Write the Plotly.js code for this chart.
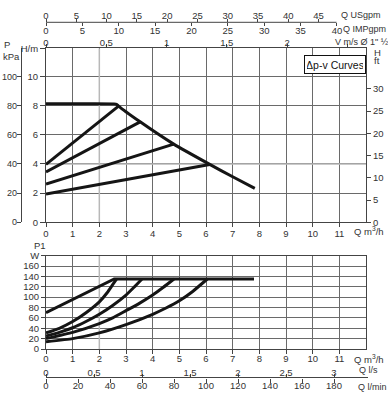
<!DOCTYPE html>
<html><head><meta charset="utf-8">
<script src="https://cdn.plot.ly/plotly-3.0.1.min.js"></script>
<style>html,body{margin:0;padding:0;background:#fff;}#chart{width:388px;height:399px;}</style>
</head><body><div id="chart"></div>
<script>
// ---- Data (Q in m3/h) ----
// Upper chart: head H (m)
const Q_max = [0, 2.55, 2.66, 2.72, 3.53, 4.79, 6.14, 7.0, 7.83];
const H_max = [8.12, 8.12, 8.08, 7.97, 6.89, 5.36, 3.97, 3.12, 2.33];
const Q_dpv1 = [0, 2.72], H_dpv1 = [3.97, 7.97];
const Q_dpv2 = [0, 3.53], H_dpv2 = [3.45, 6.89];
const Q_dpv3 = [0, 4.79], H_dpv3 = [2.62, 5.36];
const Q_dpv4 = [0, 6.14], H_dpv4 = [1.94, 3.97];
// Lower chart: power P1 (W)
const Q_pA = [0, 2.56, 7.8], P_pA = [70, 135, 135];
const Q_pB = [0, 0.5, 1, 1.5, 2, 2.3, 2.5, 2.65], P_pB = [31, 40, 53, 70, 91, 109, 124, 135];
const Q_pC = [0, 0.5, 1, 1.5, 2, 2.5, 3, 3.3, 3.6], P_pC = [25, 32, 41, 53, 67, 84, 104, 119, 135];
const Q_pD = [0, 1, 2, 2.5, 3, 3.5, 4, 4.4, 4.8], P_pD = [20, 32, 49, 60, 74, 88, 104, 119, 135];
const Q_pE = [0, 1, 2, 3, 4, 4.5, 5, 5.5, 6.05], P_pE = [14, 20, 31, 47, 67, 79, 93, 111, 135];
// Tick labels
const qTicks = [0,1,2,3,4,5,6,7,8,9,10,11];
const hTicks = [0,2,4,6,8,10], hTop = 11.92;
const kpaTicks = [0,20,40,60,80,100];
const ftTicks = [0,5,10,15,20,25,30];
const usTicks = [0,5,10,15,20,25,30,35,40,45];
const impTicks = [0,5,10,15,20,25,30,35,40];
const vTicks = [0,0.5,1,1.5,2,2.5], vText = ['0','0,5','1','1,5','2',''];
const wTicks = [0,20,40,60,80,100,120,140,160,180], wText = ['0','20','40','60','80','100','120','140','160','W'];
const lsTicks = [0,0.5,1,1.5,2,2.5,3], lsText = ['0','0,5','1','1,5','2','2,5','3'];
const lminTicks = [0,20,40,60,80,100,120,140,160,180];

// Unit conversions (per m3/h)
const US = 4.4029, IMP = 3.6662, VEL = 1/4.52, LS = 1/3.6, LMIN = 1000/60, FT = 3.28084;

const W = 388, Hh = 399;
const px = v => v / W, py = v => 1 - v / Hh;
const QMAX = 12;
const xdom = [px(46), px(366)];
const ydom1 = [py(222.3), py(48.3)];
const ydom2 = [py(349), py(255.5)];
const yRange1 = [0, 11.93];
const yRange2 = [0, 180.3];

const FAM = 'Liberation Sans, Arial, sans-serif';
const font = {family: FAM, size: 9.5, color: '#333'};
const tfont = {family: FAM, size: 9, color: '#333'};
const gridc = '#6a6a6a';
const lineStyle = {color: '#151515', width: 3};

function tr(x, y, xa, ya, shape) {
  return {x: x, y: y, xaxis: xa, yaxis: ya, type: 'scatter', mode: 'lines',
    line: Object.assign({shape: shape || 'linear', smoothing: 0.4}, lineStyle),
    hoverinfo: 'skip', showlegend: false};
}
function dummy(xa, ya) {
  return {x: [null], y: [null], xaxis: xa, yaxis: ya, type: 'scatter', mode: 'lines', hoverinfo: 'skip', showlegend: false};
}

const data = [
  tr(Q_dpv4, H_dpv4, 'x', 'y'),
  tr(Q_dpv3, H_dpv3, 'x', 'y'),
  tr(Q_dpv2, H_dpv2, 'x', 'y'),
  tr(Q_dpv1, H_dpv1, 'x', 'y'),
  tr(Q_max, H_max, 'x', 'y', 'spline'),
  tr(Q_pE, P_pE, 'x2', 'y2', 'spline'),
  tr(Q_pD, P_pD, 'x2', 'y2', 'spline'),
  tr(Q_pC, P_pC, 'x2', 'y2', 'spline'),
  tr(Q_pB, P_pB, 'x2', 'y2', 'spline'),
  tr(Q_pA, P_pA, 'x2', 'y2'),
  dummy('x3', 'y'), dummy('x4', 'y'), dummy('x5', 'y'),
  dummy('x', 'y3'), dummy('x', 'y4'),
  dummy('x6', 'y2'), dummy('x7', 'y2')
];

const baseX = {domain: xdom, range: [0, QMAX], fixedrange: true, showgrid: true, gridcolor: gridc, gridwidth: 1,
  zeroline: false, showline: true, mirror: true, linecolor: '#444', linewidth: 1,
  ticks: 'outside', ticklen: 4, tickcolor: '#444', tickmode: 'array', tickvals: qTicks, tickfont: font};
const freeX = (pos, side, range, vals, text, len, stand) => ({
  overlaying: 'x', anchor: 'free', position: pos, side: side, range: range, fixedrange: true,
  showgrid: false, zeroline: false, showline: false, ticks: 'outside', ticklen: len, tickcolor: '#444',
  tickmode: 'array', tickvals: vals, ticktext: text, tickfont: font, ticklabelstandoff: stand});

const layout = {
  width: W, height: Hh, margin: {l: 0, r: 0, t: 0, b: 0}, paper_bgcolor: '#fff', plot_bgcolor: '#fff',
  showlegend: false, font: font,
  xaxis: Object.assign({}, baseX, {anchor: 'y', ticklabelstandoff: -2}),
  yaxis: {domain: ydom1, range: yRange1, fixedrange: true, showgrid: true, gridcolor: gridc, zeroline: false,
    showline: true, mirror: true, linecolor: '#444', ticks: 'outside', ticklen: 5, tickcolor: '#444',
    tickmode: 'array', tickvals: hTicks.concat([hTop]), ticktext: hTicks.map(String).concat(['H/m']), tickfont: font, anchor: 'x'},
  xaxis2: Object.assign({}, baseX, {anchor: 'y2', ticklabelstandoff: -3}),
  yaxis2: {domain: ydom2, range: yRange2, fixedrange: true, showgrid: true, gridcolor: gridc, zeroline: false,
    showline: true, mirror: true, linecolor: '#444', ticks: 'outside', ticklen: 4, tickcolor: '#444',
    tickmode: 'array', tickvals: wTicks, ticktext: wText, tickfont: font, anchor: 'x2'},
  xaxis3: freeX(ydom1[1], 'top', [0, QMAX * VEL], vTicks, vText, 4, -5),
  xaxis4: freeX(py(22.3), 'top', [0, QMAX * US], usTicks, usTicks.map(String), 3, -3),
  xaxis5: freeX(py(22.3), 'bottom', [0, QMAX * IMP], impTicks, impTicks.map(String), 3, -4),
  xaxis6: Object.assign(freeX(py(377.5), 'top', [0, QMAX * LS], lsTicks, lsText, 4, -6), {overlaying: 'x2'}),
  xaxis7: Object.assign(freeX(py(377.5), 'bottom', [0, QMAX * LMIN], lminTicks, lminTicks.map(String), 4, -5), {overlaying: 'x2'}),
  yaxis3: {overlaying: 'y', anchor: 'free', position: px(20.7), side: 'left', range: [0, yRange1[1] * 10], fixedrange: true,
    showgrid: false, zeroline: false, showline: true, linecolor: '#444', ticks: 'outside', ticklen: 4, tickcolor: '#444',
    tickmode: 'array', tickvals: kpaTicks, ticktext: kpaTicks.map(String), tickfont: {family: FAM, size: 9, color: '#333'},
    ticklabelstandoff: -2},
  yaxis4: {overlaying: 'y', anchor: 'x', side: 'right', range: [0, yRange1[1] * FT], fixedrange: true,
    showgrid: false, zeroline: false, showline: false, ticks: 'outside', ticklen: 4, tickcolor: '#444',
    tickmode: 'array', tickvals: ftTicks, ticktext: ftTicks.map(String), tickfont: font},
  shapes: [
    // light grid lines
    {type: 'line', xref: 'x', yref: 'y', x0: 2, x1: 2, y0: 0, y1: yRange1[1], line: {color: '#b8b8b8', width: 1.5}, layer: 'between'},
    {type: 'line', xref: 'x', yref: 'y', x0: 0, x1: QMAX, y0: 4, y1: 4, line: {color: '#b8b8b8', width: 1.5}, layer: 'between'},
    {type: 'line', xref: 'x2', yref: 'y2', x0: 2, x1: 2, y0: 0, y1: yRange2[1], line: {color: '#b8b8b8', width: 1.5}, layer: 'between'},
    // top flow axis line
    {type: 'line', xref: 'paper', yref: 'paper', x0: px(46), x1: px(336.5), y0: py(22.3), y1: py(22.3), line: {color: '#444', width: 1}},
    // bottom flow axis line
    {type: 'line', xref: 'paper', yref: 'paper', x0: px(46), x1: px(368), y0: py(377.5), y1: py(377.5), line: {color: '#444', width: 1}}
  ],
  annotations: [
    {text: 'P', x: px(2), y: py(44), xanchor: 'left', yanchor: 'middle'},
    {text: 'kPa', x: px(1), y: py(57), xanchor: 'left', yanchor: 'middle'},
    {text: 'H', x: px(372), y: py(52), xanchor: 'left', yanchor: 'middle'},
    {text: 'ft', x: px(372), y: py(61), xanchor: 'left', yanchor: 'middle'},
    {text: 'Q m<sup>3</sup>/h', x: px(352), y: py(231), xanchor: 'left', yanchor: 'middle'},
    {text: 'Q m<sup>3</sup>/h', x: px(352), y: py(359), xanchor: 'left', yanchor: 'middle'},
    {text: 'P1', x: px(32), y: py(245), xanchor: 'left', yanchor: 'middle'},
    {text: 'Q USgpm', x: px(339), y: py(15), xanchor: 'left', yanchor: 'middle', font: tfont},
    {text: 'Q IMPgpm', x: px(341), y: py(29), xanchor: 'left', yanchor: 'middle', font: tfont},
    {text: 'V m/s Ø 1" ½', x: px(333), y: py(41.5), xanchor: 'left', yanchor: 'middle', font: tfont},
    {text: 'Q l/s', x: px(357), y: py(370), xanchor: 'left', yanchor: 'middle', font: tfont},
    {text: 'Q l/min', x: px(356), y: py(386.5), xanchor: 'left', yanchor: 'middle', font: tfont},
    {text: 'Δp-v Curves', x: px(335), y: py(64), xanchor: 'center', yanchor: 'middle',
      font: {family: FAM, size: 10.5, color: '#111'}, width: 56, height: 13,
      bordercolor: '#111', borderwidth: 1, borderpad: 2, bgcolor: '#fff'}
  ].map(a => Object.assign({xref: 'paper', yref: 'paper', showarrow: false, font: font}, a))
};

Plotly.newPlot('chart', data, layout, {staticPlot: true, displayModeBar: false});
</script></body></html>
